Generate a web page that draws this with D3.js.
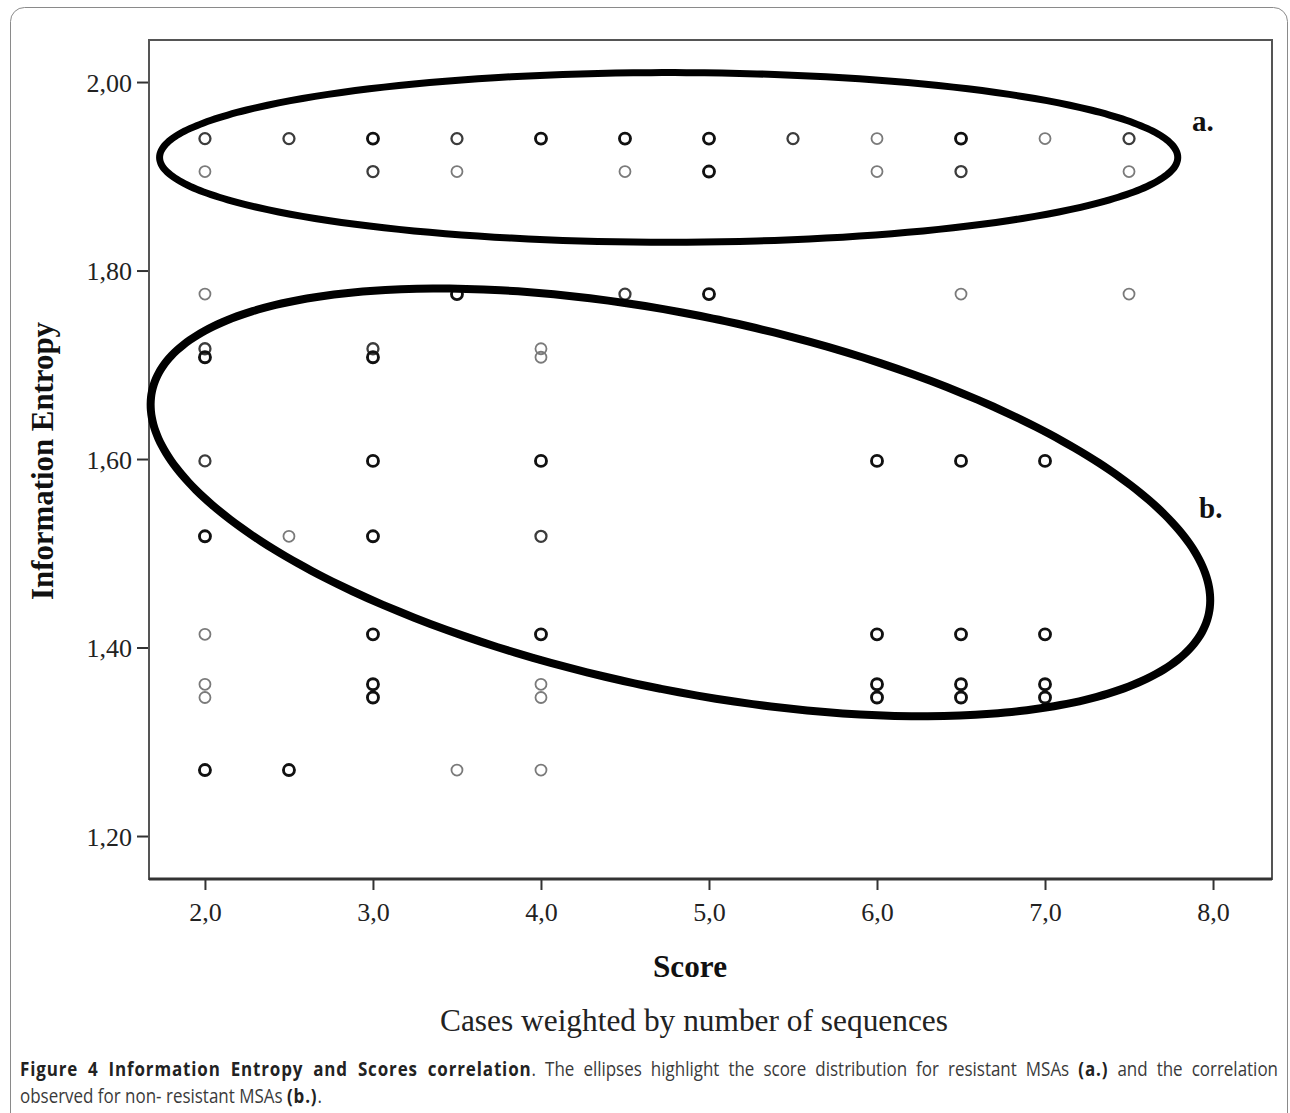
<!DOCTYPE html>
<html>
<head>
<meta charset="utf-8">
<script src="https://cdn.jsdelivr.net/npm/d3@7"></script>
<style>
  body { margin: 0; background: #fff; }
  svg { display: block; }
</style>
</head>
<body>
<div id="chart"></div>
<script>
// values (score, entropy, case weight 1..3)
const scores    = [2.0, 2.5, 3.0, 3.5, 4.0, 4.5, 5.0, 5.5, 6.0, 6.5, 7.0, 7.5,
                   2.0, 3.0, 3.5, 4.5, 5.0, 6.0, 6.5, 7.5,
                   2.0, 3.5, 4.5, 5.0, 6.5, 7.5,
                   2.0, 3.0, 4.0, 2.0, 3.0, 4.0,
                   2.0, 3.0, 4.0, 6.0, 6.5, 7.0,
                   2.0, 2.5, 3.0, 4.0,
                   2.0, 3.0, 4.0, 6.0, 6.5, 7.0,
                   2.0, 3.0, 4.0, 6.0, 6.5, 7.0,
                   2.0, 3.0, 4.0, 6.0, 6.5, 7.0,
                   2.0, 2.5, 3.5, 4.0];
const entropies = [1.94, 1.94, 1.94, 1.94, 1.94, 1.94, 1.94, 1.94, 1.94, 1.94, 1.94, 1.94,
                   1.905, 1.905, 1.905, 1.905, 1.905, 1.905, 1.905, 1.905,
                   1.775, 1.775, 1.775, 1.775, 1.775, 1.775,
                   1.717, 1.717, 1.717, 1.708, 1.708, 1.708,
                   1.598, 1.598, 1.598, 1.598, 1.598, 1.598,
                   1.518, 1.518, 1.518, 1.518,
                   1.414, 1.414, 1.414, 1.414, 1.414, 1.414,
                   1.361, 1.361, 1.361, 1.361, 1.361, 1.361,
                   1.347, 1.347, 1.347, 1.347, 1.347, 1.347,
                   1.27, 1.27, 1.27, 1.27];
const weights   = [2, 2, 3, 2, 3, 3, 3, 2, 1, 3, 1, 2,
                   1, 2, 1, 1, 3, 1, 2, 1,
                   1, 3, 2, 3, 1, 1,
                   2, 2, 1, 3, 3, 1,
                   2, 3, 3, 3, 3, 3,
                   3, 1, 3, 2,
                   1, 3, 3, 3, 3, 3,
                   1, 3, 1, 3, 3, 3,
                   1, 3, 1, 3, 3, 3,
                   3, 3, 1, 1];

const xTicks = [2, 3, 4, 5, 6, 7, 8];
const yTicks = [1.2, 1.4, 1.6, 1.8, 2.0];

// highlight ellipses: centre (score, entropy), half axes (score units, entropy units), tilt deg
const ellipseNames   = ['a.', 'b.'];
const ellipseCenters = [[4.76, 1.92], [4.83, 1.554]];
const ellipseRadii   = [[3.03, 0.09], [3.214, 0.198]];
const ellipseTilt    = [0, 11.9];
const labelPos       = [[7.875, 1.948], [7.917, 1.537]];

const width = 1290, height = 1113;
const plot = { left: 149, right: 1272, top: 40, bottom: 879 };
const serif = "'Liberation Serif', 'Times New Roman', Times, serif";
const sans = "'Open Sans', 'Noto Sans', sans-serif";

const svg = d3.select('#chart').append('svg')
    .attr('width', width)
    .attr('height', height);

// outer figure border
svg.append('rect')
    .attr('x', 10.5).attr('y', 7.5)
    .attr('width', 1277).attr('height', 1130)
    .attr('rx', 14)
    .attr('fill', 'none')
    .attr('stroke', '#8a8a8a')
    .attr('stroke-width', 1);

const x = d3.scaleLinear().domain([1.667, 8.351]).range([plot.left, plot.right]);
const y = d3.scaleLinear().domain([1.1544, 2.0446]).range([plot.bottom, plot.top]);

const fmt = (d, n) => d.toFixed(n).replace('.', ',');

// axes
const xAxis = svg.append('g')
    .attr('transform', `translate(0, ${plot.bottom})`)
    .call(d3.axisBottom(x).tickValues(xTicks).tickSize(11).tickSizeOuter(0).tickPadding(13)
        .tickFormat(d => fmt(d, 1)));
const yAxis = svg.append('g')
    .attr('transform', `translate(${plot.left}, 0)`)
    .call(d3.axisLeft(y).tickValues(yTicks).tickSize(12).tickSizeOuter(0).tickPadding(5)
        .tickFormat(d => fmt(d, 2)));

[xAxis, yAxis].forEach(g => {
    g.select('.domain').remove();
    g.selectAll('line').attr('stroke', '#333').attr('stroke-width', 2);
    g.selectAll('text')
        .style('font-family', serif)
        .attr('font-size', 26)
        .attr('fill', '#222');
});
yAxis.selectAll('text').attr('dy', '0.36em');

// frame
svg.append('rect')
    .attr('x', plot.left).attr('y', plot.top)
    .attr('width', plot.right - plot.left).attr('height', plot.bottom - plot.top)
    .attr('fill', 'none')
    .attr('stroke', '#555')
    .attr('stroke-width', 2);
svg.append('line')
    .attr('x1', plot.left).attr('x2', plot.right)
    .attr('y1', plot.bottom).attr('y2', plot.bottom)
    .attr('stroke', '#333').attr('stroke-width', 3);

// points
const points = scores.map((s, i) => ({ score: s, entropy: entropies[i], w: weights[i] }));
const strokeColor = d3.scaleOrdinal().domain([1, 2, 3]).range(['#7a7a7a', '#3c3c3c', '#111']);
const strokeWidth = d3.scaleOrdinal().domain([1, 2, 3]).range([1.8, 2.3, 2.9]);

svg.append('g').attr('class', 'dots')
    .selectAll('circle')
    .data(points)
    .join('circle')
    .attr('cx', d => x(d.score))
    .attr('cy', d => y(d.entropy))
    .attr('r', 5.5)
    .attr('fill', 'none')
    .attr('stroke', d => strokeColor(d.w))
    .attr('stroke-width', d => strokeWidth(d.w));

// ellipses
const ellipsePath = (c, r, tilt) => {
    const cx = x(c[0]), cy = y(c[1]);
    const rx = x(c[0] + r[0]) - cx, ry = y(c[1] - r[1]) - cy;
    const th = tilt * Math.PI / 180;
    const pts = d3.range(0, 360, 2).map(a => {
        const t = a * Math.PI / 180;
        const ex = rx * Math.cos(t), ey = ry * Math.sin(t);
        return [cx + ex * Math.cos(th) - ey * Math.sin(th), cy + ex * Math.sin(th) + ey * Math.cos(th)];
    });
    return d3.line().curve(d3.curveCardinalClosed)(pts);
};

svg.append('g').selectAll('path')
    .data(ellipseNames)
    .join('path')
    .attr('d', (d, i) => ellipsePath(ellipseCenters[i], ellipseRadii[i], ellipseTilt[i]))
    .attr('fill', 'none')
    .attr('stroke', '#000')
    .attr('stroke-width', (d, i) => i === 0 ? 7 : 8);

svg.append('g').selectAll('text')
    .data(ellipseNames)
    .join('text')
    .attr('x', (d, i) => x(labelPos[i][0]))
    .attr('y', (d, i) => y(labelPos[i][1]))
    .style('font-family', serif)
    .attr('font-weight', 'bold')
    .attr('font-size', 29)
    .attr('fill', '#111')
    .text(d => d);

// axis titles
svg.append('text')
    .attr('transform', `translate(53, 461) rotate(-90)`)
    .attr('text-anchor', 'middle')
    .style('font-family', serif)
    .attr('font-weight', 'bold')
    .attr('font-size', 31)
    .attr('textLength', 278)
    .attr('lengthAdjust', 'spacingAndGlyphs')
    .attr('fill', '#111')
    .text('Information Entropy');

svg.append('text')
    .attr('x', 690).attr('y', 977)
    .attr('text-anchor', 'middle')
    .style('font-family', serif)
    .attr('font-weight', 'bold')
    .attr('font-size', 31)
    .attr('textLength', 74)
    .attr('lengthAdjust', 'spacingAndGlyphs')
    .attr('fill', '#111')
    .text('Score');

svg.append('text')
    .attr('x', 694).attr('y', 1031)
    .attr('text-anchor', 'middle')
    .style('font-family', serif)
    .attr('font-size', 31)
    .attr('textLength', 508)
    .attr('lengthAdjust', 'spacingAndGlyphs')
    .attr('fill', '#222')
    .text('Cases weighted by number of sequences');

// caption, narrowed horizontally like the source typeface
const capScale = 0.87;
function caption(yPos, parts) {
    const t = svg.append('text')
        .attr('transform', `translate(20, ${yPos}) scale(${capScale}, 1)`)
        .style('font-family', sans)
        .attr('font-size', 19.5)
        .attr('fill', '#3a3a3a');
    parts.forEach(([txt, bold]) => {
        const s = t.append('tspan').text(txt);
        if (bold) s.attr('font-weight', 'bold').attr('fill', '#222').attr('letter-spacing', 1);
    });
    return t;
}
const cap1 = caption(1076, [
    ['Figure 4 Information Entropy and Scores correlation', true],
    ['. The ellipses highlight the score distribution for resistant MSAs ', false],
    ['(a.)', true],
    [' and the correlation', false]
]);
caption(1103, [
    ['observed for non- resistant MSAs ', false],
    ['(b.)', true],
    ['.', false]
]);

// justify the first caption line to the full width
const natural = cap1.node().getComputedTextLength();
const gaps = (cap1.text().match(/ /g) || []).length;
cap1.attr('word-spacing', Math.max(0, (1258 / capScale - natural) / gaps));
</script>
</body>
</html>
